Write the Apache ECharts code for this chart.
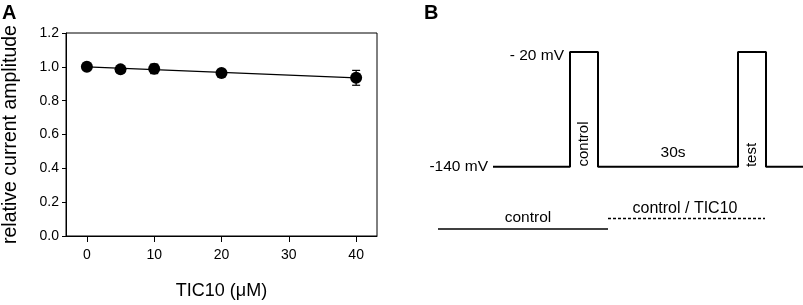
<!DOCTYPE html>
<html>
<head>
<meta charset="utf-8">
<script src="https://cdn.jsdelivr.net/npm/echarts@6/dist/echarts.min.js"></script>
<style>
  html, body { margin: 0; padding: 0; background: #fff; }
  #main { width: 803px; height: 305px; }
</style>
</head>
<body>
<div id="main"></div>
<script>
var myChart = echarts.init(document.getElementById('main'))

// panel A: concentration-response
var conc = [0, 5, 10, 20, 40]
var amplitude = [1.0, 0.985, 0.988, 0.964, 0.935]
var errors = [0.0, 0.0, 0.028, 0.014, 0.044]
var fitX = [0, 40]
var fitY = [1.0, 0.935]
var xTicks = [0, 10, 20, 30, 40]

// panel B: voltage protocol (schematic time units, mV)
var protocolTime = [55, 132, 132, 160, 160, 300, 300, 328, 328, 365]
var protocolVolt = [-140, -140, -20, -20, -140, -140, -20, -20, -140, -140]
var controlBar = [[0, -205], [170, -205]]
var tic10Bar = [[170, -194], [327, -194]]

var font = 'Liberation Sans, Arial, sans-serif'

var pts = conc.map(function (c, i) { return [c, amplitude[i], errors[i]] })
var fitLine = fitX.map(function (x, i) { return [x, fitY[i]] })
var protocol = protocolTime.map(function (t, i) { return [t, protocolVolt[i]] })

var option = {
  animation: false,
  backgroundColor: '#fff',
  grid: [
    { left: 65, top: 33, width: 312, height: 207, show: true, borderColor: '#000', borderWidth: 1 },
    { left: 438, top: 52, width: 365, height: 177 },
  ],
  xAxis: [
    {
      gridIndex: 0,
      type: 'value',
      min: -3.1,
      max: 43.1,
      splitLine: { show: false },
      axisLine: { onZero: false, lineStyle: { color: '#000' } },
      axisTick: { show: true, length: 6, customValues: xTicks, lineStyle: { color: '#000' } },
      axisLabel: { customValues: xTicks, color: '#000', fontSize: 14, fontFamily: font, margin: 12 },
      name: 'TIC10 (μM)',
      nameLocation: 'middle',
      nameGap: 46,
      nameTextStyle: { color: '#000', fontSize: 18, fontFamily: font },
    },
    { gridIndex: 1, type: 'value', min: 0, max: 365, show: false },
  ],
  yAxis: [
    {
      gridIndex: 0,
      type: 'value',
      min: 0,
      max: 1.2,
      interval: 0.2,
      splitLine: { show: false },
      axisLine: { show: true, onZero: false, lineStyle: { color: '#000' } },
      axisTick: { show: true, length: 4, lineStyle: { color: '#000' } },
      axisLabel: {
        color: '#000', fontSize: 14, fontFamily: font, margin: 7,
        formatter: function (v) { return v.toFixed(1) },
      },
      name: 'relative current amplitude',
      nameLocation: 'middle',
      nameGap: 45,
      nameTextStyle: { color: '#000', fontSize: 19.5, fontFamily: font },
    },
    { gridIndex: 1, type: 'value', min: -205, max: -20, show: false },
  ],
  series: [
    {
      type: 'line',
      xAxisIndex: 0,
      yAxisIndex: 0,
      data: fitLine,
      symbol: 'none',
      lineStyle: { color: '#000', width: 1.3 },
    },
    {
      type: 'custom',
      xAxisIndex: 0,
      yAxisIndex: 0,
      data: pts,
      z: 3,
      renderItem: function (params, api) {
        var x = api.value(0)
        var y = api.value(1)
        var e = api.value(2)
        var top = api.coord([x, y + e])
        var bot = api.coord([x, y - e])
        var cap = 4
        var style = { stroke: '#000', lineWidth: 1.2 }
        return {
          type: 'group',
          children: [
            { type: 'line', shape: { x1: top[0], y1: top[1], x2: bot[0], y2: bot[1] }, style: style },
            { type: 'line', shape: { x1: top[0] - cap, y1: top[1], x2: top[0] + cap, y2: top[1] }, style: style },
            { type: 'line', shape: { x1: bot[0] - cap, y1: bot[1], x2: bot[0] + cap, y2: bot[1] }, style: style },
          ],
        }
      },
    },
    {
      type: 'scatter',
      xAxisIndex: 0,
      yAxisIndex: 0,
      data: pts,
      symbolSize: 12,
      z: 4,
      itemStyle: { color: '#000', opacity: 1 },
    },
    {
      type: 'line',
      xAxisIndex: 1,
      yAxisIndex: 1,
      data: protocol,
      symbol: 'none',
      clip: false,
      lineStyle: { color: '#000', width: 2 },
    },
    {
      type: 'line',
      xAxisIndex: 1,
      yAxisIndex: 1,
      data: controlBar,
      symbol: 'none',
      clip: false,
      lineStyle: { color: '#000', width: 1.5 },
    },
    {
      type: 'line',
      xAxisIndex: 1,
      yAxisIndex: 1,
      data: tic10Bar,
      symbol: 'none',
      clip: false,
      lineStyle: { color: '#000', width: 1.5, type: [3, 2] },
    },
  ],
  graphic: [
    { type: 'text', left: 2, top: 3, style: { text: 'A', font: 'bold 20px ' + font, fill: '#000' } },
    { type: 'text', left: 424, top: 3, style: { text: 'B', font: 'bold 20px ' + font, fill: '#000' } },
    { type: 'text', x: 488, y: 167, style: { text: '-140 mV', font: '15.5px ' + font, fill: '#000', align: 'right', verticalAlign: 'middle' } },
    { type: 'text', x: 564, y: 56, style: { text: '- 20 mV', font: '15.5px ' + font, fill: '#000', align: 'right', verticalAlign: 'middle' } },
    { type: 'text', x: 673, y: 153, style: { text: '30s', font: '15.5px ' + font, fill: '#000', align: 'center', verticalAlign: 'middle' } },
    { type: 'text', x: 584, y: 144, rotation: Math.PI / 2, style: { text: 'control', font: '15px ' + font, fill: '#000', align: 'center', verticalAlign: 'middle' } },
    { type: 'text', x: 752, y: 155, rotation: Math.PI / 2, style: { text: 'test', font: '15px ' + font, fill: '#000', align: 'center', verticalAlign: 'middle' } },
    { type: 'text', x: 528, y: 218, style: { text: 'control', font: '15.5px ' + font, fill: '#000', align: 'center', verticalAlign: 'middle' } },
    { type: 'text', x: 685, y: 209, style: { text: 'control / TIC10', font: '16px ' + font, fill: '#000', align: 'center', verticalAlign: 'middle' } },
  ],
}

myChart.setOption(option)
</script>
</body>
</html>
